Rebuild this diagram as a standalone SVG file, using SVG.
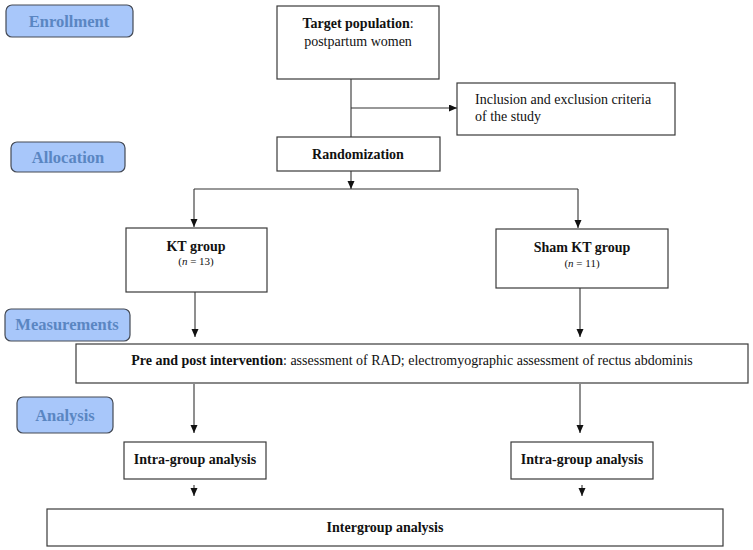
<svg xmlns="http://www.w3.org/2000/svg" width="753" height="550" viewBox="0 0 753 550">
<style>
.bg{fill:#ffffff}
.box{fill:#ffffff;stroke:#3a3a3a;stroke-width:1.2}
.badge{fill:#a8c7fa;stroke:#444a55;stroke-width:1.2}
.bt{font-family:"Liberation Serif",serif;font-weight:bold;font-size:16.5px;fill:#5a86c2;text-anchor:middle}
.t{font-family:"Liberation Serif",serif;font-size:14px;fill:#111}
.c{text-anchor:middle}
.b{font-weight:bold}
.s{font-size:11px}
.ln{stroke:#333;stroke-width:1.1;fill:none}
</style>
<defs>
<marker id="ah" markerUnits="userSpaceOnUse" markerWidth="9" markerHeight="8" refX="8" refY="3.5" orient="auto">
<path d="M0,0 L8,3.5 L0,7 z" fill="#111"/>
</marker>
</defs>
<rect class="bg" x="0" y="0" width="753" height="550"/>

<g id="badge-enrollment"><rect class="badge" x="6" y="5" width="127" height="32" rx="6"/><text class="bt" x="69" y="27">Enrollment</text></g>
<g id="badge-allocation"><rect class="badge" x="11" y="142" width="114" height="30" rx="6"/><text class="bt" x="68" y="163">Allocation</text></g>
<g id="badge-measurements"><rect class="badge" x="5" y="309" width="125" height="32" rx="6"/><text class="bt" x="67" y="330">Measurements</text></g>
<g id="badge-analysis"><rect class="badge" x="17" y="397" width="96" height="36" rx="6"/><text class="bt" x="65" y="421">Analysis</text></g>

<g id="connectors">
<line class="ln" x1="351" y1="79" x2="351" y2="137"/>
<line class="ln" x1="351" y1="108" x2="457" y2="108" marker-end="url(#ah)"/>
<line class="ln" x1="351" y1="171" x2="351" y2="189" marker-end="url(#ah)"/>
<line class="ln" x1="194" y1="189" x2="578" y2="189"/>
<line class="ln" x1="194" y1="189" x2="194" y2="227" marker-end="url(#ah)"/>
<line class="ln" x1="578" y1="189" x2="578" y2="228" marker-end="url(#ah)"/>
<line class="ln" x1="195" y1="292" x2="195" y2="337" marker-end="url(#ah)"/>
<line class="ln" x1="580" y1="288" x2="580" y2="337" marker-end="url(#ah)"/>
<line class="ln" x1="194" y1="384" x2="194" y2="433" marker-end="url(#ah)"/>
<line class="ln" x1="580" y1="384" x2="580" y2="433" marker-end="url(#ah)"/>
<line class="ln" x1="194" y1="485" x2="194" y2="496" marker-end="url(#ah)"/>
<line class="ln" x1="582" y1="485" x2="582" y2="496" marker-end="url(#ah)"/>
</g>

<g id="target"><rect class="box" x="277" y="6" width="162" height="73"/>
<text class="t c" x="358" y="28"><tspan class="b">Target population</tspan>:</text>
<text class="t c" x="358" y="46">postpartum women</text></g>

<g id="criteria"><rect class="box" x="457" y="83" width="218" height="52"/>
<text class="t" x="475" y="104">Inclusion and exclusion criteria</text>
<text class="t" x="475" y="121">of the study</text></g>

<g id="randomization"><rect class="box" x="277" y="137" width="163" height="34"/>
<text class="t c b" x="358" y="159">Randomization</text></g>

<g id="kt"><rect class="box" x="126" y="228" width="141" height="64"/>
<text class="t c b" x="196" y="251">KT group</text>
<text class="t c s" x="196" y="265">(<tspan font-style="italic">n</tspan> = 13)</text></g>

<g id="sham"><rect class="box" x="496" y="229" width="172" height="59"/>
<text class="t c b" x="582" y="252">Sham KT group</text>
<text class="t c s" x="582" y="267">(<tspan font-style="italic">n</tspan> = 11)</text></g>

<g id="measure"><rect class="box" x="76" y="344" width="672" height="39"/>
<text class="t c" x="412" y="365"><tspan class="b">Pre and post intervention</tspan>: assessment of RAD; electromyographic assessment of rectus abdominis</text></g>

<g id="intra-kt"><rect class="box" x="124" y="442" width="142" height="37"/>
<text class="t c b" x="195" y="464">Intra-group analysis</text></g>

<g id="intra-sham"><rect class="box" x="511" y="442" width="142" height="37"/>
<text class="t c b" x="582" y="464">Intra-group analysis</text></g>

<g id="intergroup"><rect class="box" x="47" y="509" width="676" height="37"/>
<text class="t c b" x="385" y="532">Intergroup analysis</text></g>
</svg>
